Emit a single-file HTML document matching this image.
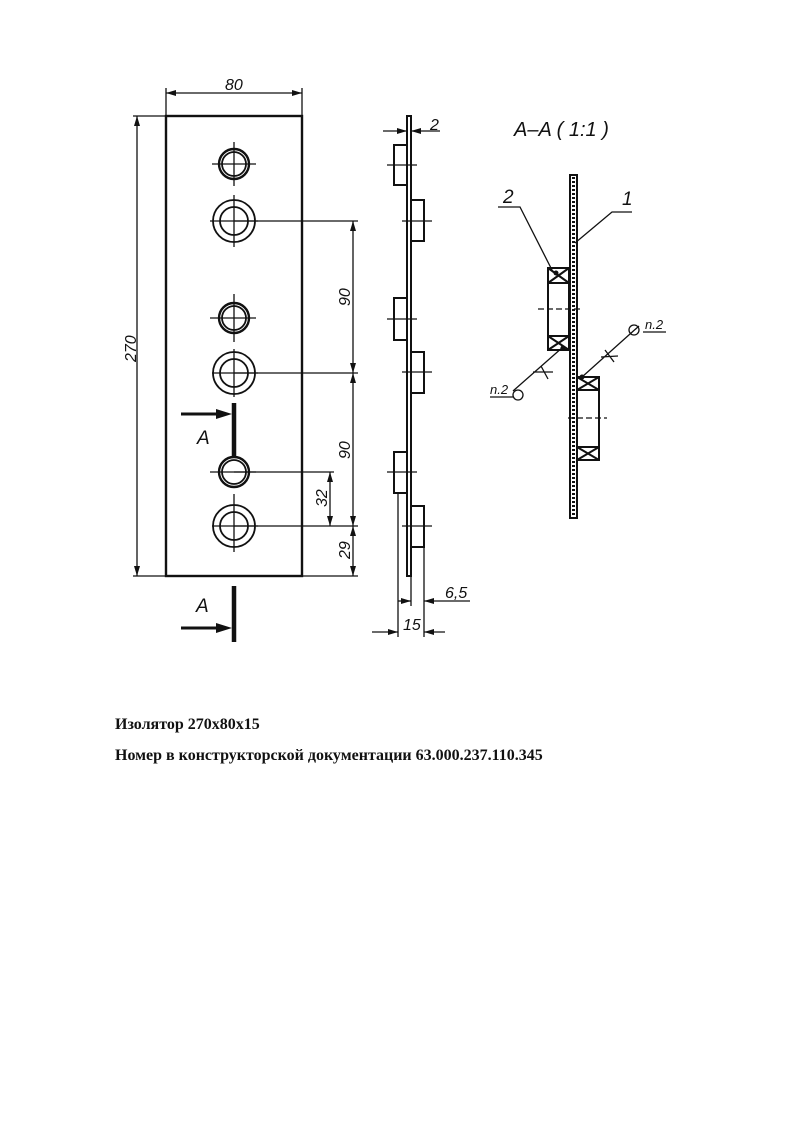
<!DOCTYPE html>
<html><head><meta charset="utf-8"><style>
body{margin:0;background:#fff;width:794px;height:1123px;overflow:hidden;position:relative}
svg{position:absolute;left:0;top:0}
.t{position:absolute;left:115px;font-family:"Liberation Serif",serif;font-weight:bold;font-size:16px;color:#111}
</style></head><body>
<svg width="794" height="1123" viewBox="0 0 794 1123" font-family="Liberation Sans, sans-serif" font-style="italic" fill="none" stroke="#111">
<defs>
<marker id="a" viewBox="0 0 10 6" refX="10" refY="3" markerWidth="11" markerHeight="6" markerUnits="userSpaceOnUse" orient="auto-start-reverse"><path d="M0,0L10,3L0,6z" fill="#111" stroke="none"/></marker>
</defs>
<rect x="166" y="116" width="136" height="460" stroke-width="2.4"/>
<g stroke-width="1.3">
<line x1="166" y1="88" x2="166" y2="116"/><line x1="302" y1="88" x2="302" y2="116"/>
<line x1="166" y1="93" x2="302" y2="93" marker-start="url(#a)" marker-end="url(#a)"/>
<line x1="133" y1="116" x2="166" y2="116"/><line x1="133" y1="576" x2="166" y2="576"/>
<line x1="137" y1="116" x2="137" y2="576" marker-start="url(#a)" marker-end="url(#a)"/>
<line x1="234" y1="221" x2="358" y2="221"/><line x1="234" y1="373" x2="358" y2="373"/>
<line x1="234" y1="526" x2="358" y2="526"/><line x1="302" y1="576" x2="358" y2="576"/>
<line x1="353" y1="221" x2="353" y2="373" marker-start="url(#a)" marker-end="url(#a)"/>
<line x1="353" y1="373" x2="353" y2="526" marker-start="url(#a)" marker-end="url(#a)"/>
<line x1="353" y1="526" x2="353" y2="576" marker-start="url(#a)" marker-end="url(#a)"/>
<line x1="234" y1="472" x2="334" y2="472"/>
<line x1="330" y1="472" x2="330" y2="526" marker-start="url(#a)" marker-end="url(#a)"/>
</g>
<g stroke-width="2.4">
<circle cx="234" cy="164" r="15"/><circle cx="234" cy="164" r="12" stroke-width="1.8"/>
<circle cx="234" cy="221" r="21" stroke-width="1.8"/><circle cx="234" cy="221" r="14" stroke-width="1.8"/>
<circle cx="234" cy="318" r="15"/><circle cx="234" cy="318" r="12" stroke-width="1.8"/>
<circle cx="234" cy="373" r="21" stroke-width="1.8"/><circle cx="234" cy="373" r="14" stroke-width="1.8"/>
<circle cx="234" cy="472" r="15"/><circle cx="234" cy="472" r="12" stroke-width="1.8"/>
<circle cx="234" cy="526" r="21" stroke-width="1.8"/><circle cx="234" cy="526" r="14" stroke-width="1.8"/>
</g>
<g stroke-width="1.3">
<path d="M212 164H256M234 142V186M210 221H258M234 195V247M210 318H256M234 294V342M212 373H258M234 349V397M210 472H256M234 494V520M212 526H258M234 500V552"/>
</g>
<g stroke-width="4.5"><line x1="234" y1="403" x2="234" y2="458"/><line x1="234" y1="586" x2="234" y2="642"/></g>
<g stroke-width="3"><line x1="181" y1="414" x2="218" y2="414"/><line x1="181" y1="628" x2="218" y2="628"/></g>
<path d="M216 409L232 414L216 419zM216 623L232 628L216 633z" fill="#111" stroke="none"/>
<g fill="#111" stroke="none" font-size="19">
<text x="197" y="444">A</text><text x="196" y="612">A</text>
<text x="225" y="90" font-size="16">80</text>
<text transform="translate(136,362) rotate(-90)" font-size="16">270</text>
<text transform="translate(350,306) rotate(-90)" font-size="16">90</text>
<text transform="translate(350,459) rotate(-90)" font-size="16">90</text>
<text transform="translate(327,507) rotate(-90)" font-size="16">32</text>
<text transform="translate(350,559) rotate(-90)" font-size="16">29</text>
</g>
<rect x="407" y="116" width="4" height="460" stroke-width="2"/>
<g stroke-width="2">
<rect x="394" y="145" width="13" height="40"/><rect x="411" y="200" width="13" height="41"/>
<rect x="394" y="298" width="13" height="42"/><rect x="411" y="352" width="13" height="41"/>
<rect x="394" y="452" width="13" height="41"/><rect x="411" y="506" width="13" height="41"/>
</g>
<g stroke-width="1.3">
<path d="M387 165H417M402 221H432M387 319H417M402 372H432M387 472H417M402 526H432"/>
<line x1="383" y1="131" x2="407" y2="131" marker-end="url(#a)"/><line x1="440" y1="131" x2="411" y2="131" marker-end="url(#a)"/>
<path d="M398 493V637M411 576V606M424 547V637"/>
<line x1="398" y1="601" x2="411" y2="601" marker-end="url(#a)"/>
<line x1="470" y1="601" x2="424" y2="601" marker-end="url(#a)"/>
<line x1="372" y1="632" x2="398" y2="632" marker-end="url(#a)"/>
<line x1="445" y1="632" x2="424" y2="632" marker-end="url(#a)"/>
</g>
<g fill="#111" stroke="none" font-size="16">
<text x="430" y="130">2</text><text x="445" y="598">6,5</text><text x="403" y="630">15</text>
</g>
<text x="514" y="136" fill="#111" stroke="none" font-size="20">A–A ( 1:1 )</text>
<rect x="570" y="175" width="7" height="343" stroke-width="2"/>
<line x1="573.5" y1="177" x2="573.5" y2="516" stroke-width="3" stroke-dasharray="2 2"/>
<g stroke-width="2">
<rect x="548" y="268" width="21" height="82"/>
<path d="M548 283H569M548 336H569M548 268L569 283M569 268L548 283M548 336L569 350M569 336L548 350"/>
<rect x="577" y="377" width="22" height="83"/>
<path d="M577 390H599M577 447H599M577 377L599 390M599 377L577 390M577 447L599 460M599 447L577 460"/>
</g>
<g stroke-width="1.3"><path d="M538 309H580M568 418H607" stroke-dasharray="6 3"/>
<path d="M498 207H520L553 272M632 212H612L575 243"/>
<path d="M490 397H513M513 391L563 347M541 366L548 379M533 372L553 372"/>
<circle cx="518" cy="395" r="5"/>
<path d="M639 326L582 377M605 350L614 362M601 357L618 356M643 332H666"/>
<circle cx="634" cy="330" r="5"/>
</g>
<circle cx="556" cy="273" r="2.5" fill="#111" stroke="none"/>
<circle cx="563" cy="348" r="2.5" fill="#111" stroke="none"/>
<circle cx="582" cy="377" r="2.5" fill="#111" stroke="none"/>
<g fill="#111" stroke="none" font-size="19">
<text x="503" y="203">2</text><text x="622" y="205">1</text>
</g>
<g fill="#111" stroke="none" font-size="13">
<text x="490" y="394">n.2</text><text x="645" y="329">n.2</text>
</g>
</svg>
<div class="t" style="top:716px">Изолятор 270x80x15</div>
<div class="t" style="top:747px">Номер в конструкторской документации 63.000.237.110.345</div>
</body></html>
